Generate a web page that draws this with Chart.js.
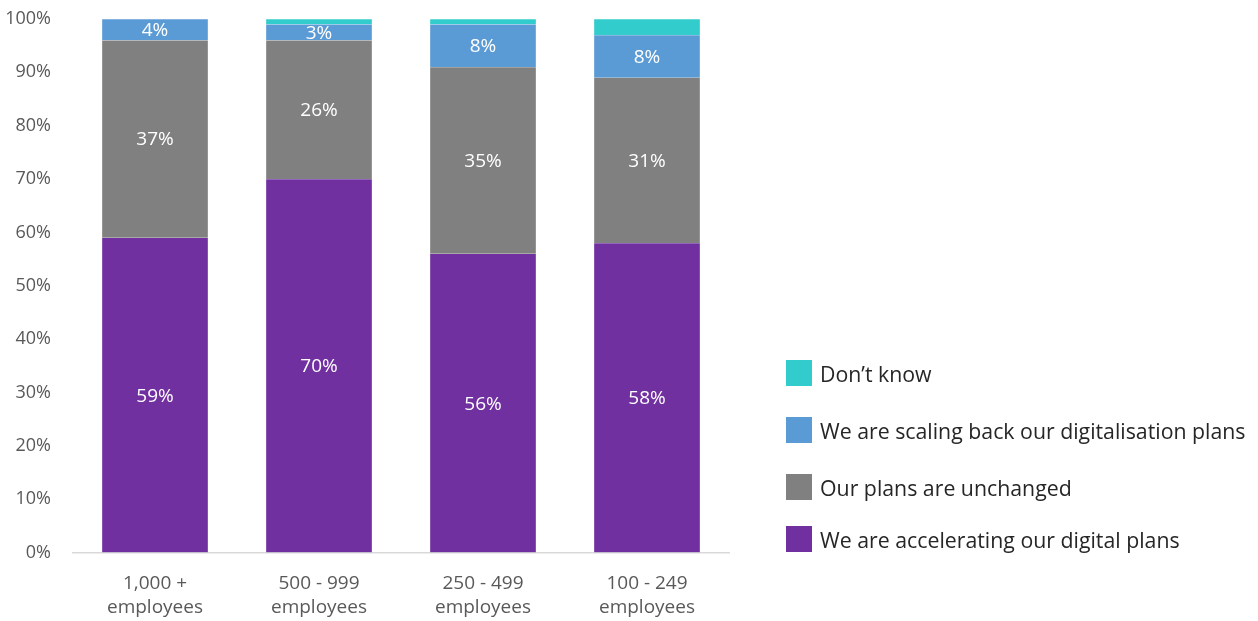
<!DOCTYPE html>
<html>
<head>
<meta charset="utf-8">
<script src="https://cdn.jsdelivr.net/npm/chart.js@4"></script>
<style>
    body { margin: 0; background: #fff; font-family: "Open Sans", sans-serif; }
    #wrap { position: relative; width: 1258px; height: 621px; }
    #legend { position: absolute; left: 786px; top: 360px; margin: 0; padding: 0; list-style: none; }
    #legend li { display: flex; align-items: center; height: 26px; margin-bottom: 31px; font-size: 21.3px; color: #262626; }
    #legend li:nth-child(3) { margin-bottom: 26px; }
    #legend li:last-child { margin-bottom: 0; }
    #legend span { display: inline-block; width: 26px; height: 26px; margin-right: 8px; }
</style>
</head>
<body>
<div id="wrap">
    <canvas id="chart" width="1258" height="621"></canvas>
    <ul id="legend"></ul>
</div>
<script>
const categories = [['1,000 +', 'employees'], ['500 - 999', 'employees'], ['250 - 499', 'employees'], ['100 - 249', 'employees']];
const accelerating = [59, 70, 56, 58];
const unchanged = [37, 26, 35, 31];
const scalingBack = [4, 3, 8, 8];
const dontKnow = [0, 1, 1, 3];
const yTicks = [0, 10, 20, 30, 40, 50, 60, 70, 80, 90, 100];

const seriesNames = [
    'We are accelerating our digital plans',
    'Our plans are unchanged',
    'We are scaling back our digitalisation plans',
    'Don\u2019t know'
];
const seriesColors = ['#7030A0', '#808080', '#5B9BD5', '#33CCCC'];
const seriesData = [accelerating, unchanged, scalingBack, dontKnow];

// white % labels in the middle of each segment (not for "Don't know")
const segmentLabels = {
    id: 'segmentLabels',
    afterDatasetsDraw(chart) {
        const ctx = chart.ctx;
        ctx.save();
        ctx.font = '19px "Open Sans"';
        ctx.fillStyle = '#fff';
        ctx.textAlign = 'center';
        ctx.textBaseline = 'middle';
        chart.data.datasets.forEach((ds, i) => {
            if (i === 3) return;
            chart.getDatasetMeta(i).data.forEach((bar, j) => {
                const v = ds.data[j];
                if (!v) return;
                ctx.fillText(v + '%', bar.x, (bar.y + bar.base) / 2 + 1);
            });
        });
        ctx.restore();
    }
};

const chart = new Chart(document.getElementById('chart'), {
    type: 'bar',
    data: {
        labels: categories,
        datasets: seriesData.map((d, i) => ({
            label: seriesNames[i],
            data: d,
            backgroundColor: seriesColors[i],
            borderColor: 'rgba(255,255,255,0.35)',
            borderWidth: 0.5,
            barThickness: 106
        }))
    },
    options: {
        responsive: false,
        animation: false,
        layout: { padding: { top: 19, right: 529, left: 0, bottom: -9 } },
        plugins: {
            legend: { display: false },
            tooltip: { enabled: false }
        },
        scales: {
            x: {
                stacked: true,
                grid: { display: false },
                border: { display: true, color: '#D9D9D9', width: 1.5 },
                ticks: { color: '#595959', font: { family: 'Open Sans', size: 19, lineHeight: 1.25 }, padding: 11, maxRotation: 0 }
            },
            y: {
                stacked: true,
                min: 0,
                max: 100,
                afterBuildTicks(scale) { scale.ticks = yTicks.map(v => ({ value: v })); },
                afterFit(scale) { scale.width = 73; scale.paddingTop = 0; },
                grid: { display: false },
                border: { display: false },
                ticks: {
                    color: '#595959',
                    font: { family: 'Open Sans', size: 18 },
                    padding: 14,
                    callback: v => v + '%'
                }
            }
        }
    },
    plugins: [segmentLabels]
});

// legend, top item is the top segment
const legend = document.getElementById('legend');
chart.data.datasets.slice().reverse().forEach(ds => {
    const li = document.createElement('li');
    li.innerHTML = '<span style="background:' + ds.backgroundColor + '"></span>' + ds.label;
    legend.appendChild(li);
});
</script>
</body>
</html>
